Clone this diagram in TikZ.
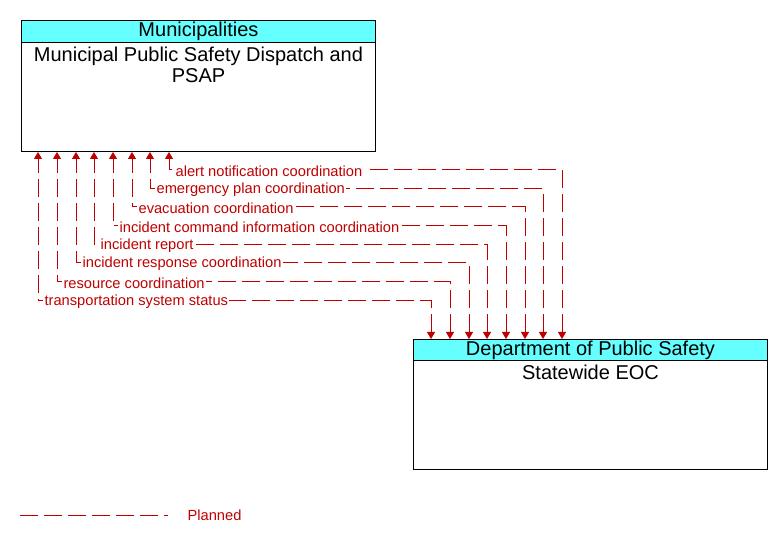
\documentclass[tikz,border=0pt]{standalone}
\usepackage{fontspec}
\setmainfont{Liberation Sans}
\usetikzlibrary{arrows.meta, positioning, calc}
\definecolor{flowred}{RGB}{192,0,0}
\definecolor{headcyan}{RGB}{102,255,255}
\tikzset{
    elembox/.style={rectangle, draw=black, fill=white, line width=0.75pt, minimum width=265.5pt, minimum height=#1, anchor=north west, inner sep=0pt},
    elemhead/.style={rectangle, draw=black, fill=headcyan, line width=0.75pt, minimum width=265.5pt, minimum height=#1, anchor=north west, inner sep=0pt, font=\fontsize{15}{17}\selectfont},
    elemname/.style={align=center, anchor=north, inner sep=0pt, font=\fontsize{15}{15.75}\selectfont},
    flowline/.style={draw=flowred, line width=0.75pt, dash pattern=on 13.5pt off 4.5pt, {Triangle[length=5.25pt,width=6pt]}-{Triangle[length=5.25pt,width=6pt]}},
    flowlabel/.style={fill=white, text=flowred, inner sep=1pt, anchor=west, font=\fontsize{11}{13}\selectfont}
}

\begin{document}
\begin{tikzpicture}[x=0.75pt, y=-0.75pt]
\useasboundingbox (0,0) rectangle (782,541);

\node[elembox=98.25pt] (muni) at (21,20) {};
\node[elemhead=16.5pt] (munihead) at (muni.north west) {Municipalities};
\node[elemname, below=3pt of munihead] (muniname) {Municipal Public Safety Dispatch and\\PSAP};

\node[elembox=97.5pt] (eoc) at (413,339) {};
\node[elemhead=15.75pt] (eochead) at (eoc.north west) {Department of Public Safety};
\node[elemname, below=3pt of eochead] (eocname) {Statewide EOC};

\foreach \xu/\xd/\yy/\lbl in {
    169/562/170/alert notification coordination,
    150/543/189/emergency plan coordination,
    132/525/207/evacuation coordination,
    113/506/226/incident command information coordination,
    94/487/245/incident report,
    76/469/263/incident response coordination,
    57/450/282/resource coordination,
    38/431/301/transportation system status}{
    \draw[flowline] ($(eoc.north west)+(\xd-413,0)$) -- ++(0,\yy-339) -| ($(muni.south west)+(\xu-21,0)$);
    \node[flowlabel] at ($(muni.south west)+(\xu-16,\yy-151)$) {\lbl};
}

\coordinate (legstart) at (20,515);
\coordinate (legend) at (168,515);
\draw[flowline, arrows=-] (legstart) -- (legend);
\node[flowlabel, fill=none] (planned) at (186,515) {Planned};

\end{tikzpicture}
\end{document}
